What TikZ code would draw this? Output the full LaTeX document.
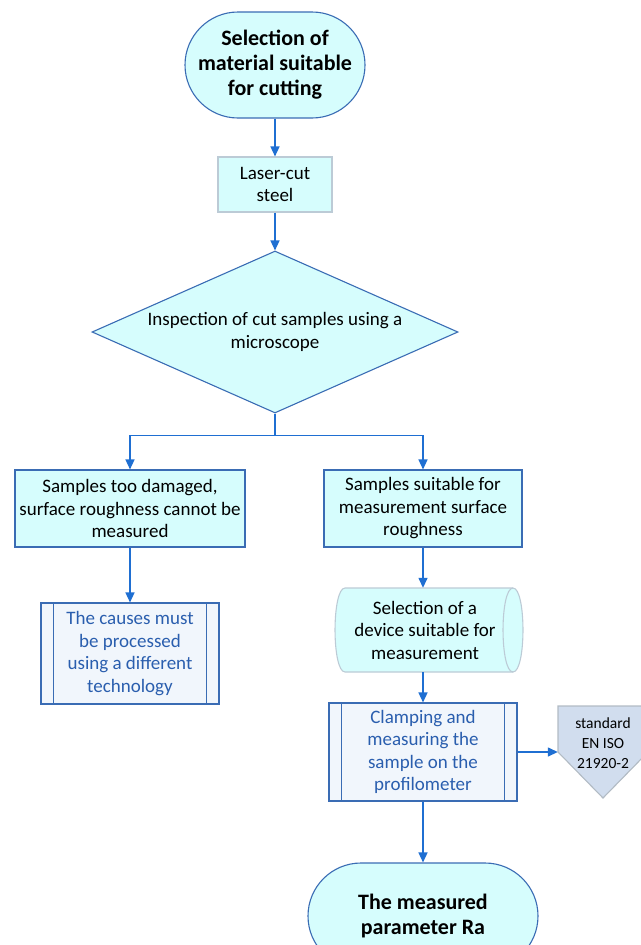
\documentclass[tikz,border=0pt]{standalone}
\usepackage{fontspec}
\setmainfont{Carlito}
\usetikzlibrary{arrows.meta,shapes.geometric,calc}

\definecolor{cyanfill}{HTML}{D6FDFD}
\definecolor{edgeblue}{HTML}{3A6CB4}
\definecolor{arrowblue}{HTML}{1F6FD2}
\definecolor{laseredge}{HTML}{BCCBD6}
\definecolor{predeffill}{HTML}{F1F6FC}
\definecolor{textblue}{HTML}{2A5EAE}
\definecolor{stdfill}{HTML}{D1DDEE}
\definecolor{stdedge}{HTML}{B2BBC4}

\begin{document}
\begin{tikzpicture}[
        x=1pt, y=-1pt,
        >={Triangle[length=10pt,width=9pt]},
        box/.style={draw=edgeblue, fill=cyanfill, line width=1.1pt, align=center,
            inner sep=0pt, font=\fontsize{19}{22.5}\selectfont},
        terminal/.style={box, rounded corners=53pt, font=\bfseries\fontsize{22}{25}\selectfont},
        predef/.style={box, fill=predeffill, text=textblue},
        flow/.style={->, draw=arrowblue, line width=1.4pt},
        ]
        \useasboundingbox (0,0) rectangle (640,945);

        % Main column
        \node[terminal, minimum width=180pt, minimum height=106pt] (select) at (275,65)
            {Selection of\\material suitable\\for cutting};
        \node[box, draw=laseredge, minimum width=114pt, minimum height=55pt] (laser) at (275,184.5)
            {Laser-cut\\steel};
        \node[box, diamond, aspect=2.26, minimum width=366pt, minimum height=162pt] (inspect) at (275,332)
            {Inspection of cut samples using a\\microscope};

        % Two branches
        \node[box, minimum width=230pt, minimum height=77pt] (damaged) at (130,508.5)
            {Samples too damaged,\\surface roughness cannot be\\measured};
        \node[box, minimum width=198pt, minimum height=77pt] (suitable) at (423,508.5)
            {Samples suitable for\\measurement surface\\roughness};
        \node[predef, minimum width=178pt, minimum height=101pt] (causes) at (130,653.5)
            {The causes must\\be processed\\using a different\\technology};
        \node[predef, minimum width=188pt, minimum height=98pt] (clamp) at (423,752)
            {Clamping and\\measuring the\\sample on the\\profilometer};
        \node[terminal, minimum width=230pt, minimum height=106pt] (result) at (423,916)
            {The measured\\parameter Ra};

        % Side bars of the predefined processes
        \foreach \n in {causes,clamp}{
            \draw[edgeblue, line width=1.1pt] ([xshift=13pt]\n.north west) -- ([xshift=13pt]\n.south west);
            \draw[edgeblue, line width=1.1pt] ([xshift=-13pt]\n.north east) -- ([xshift=-13pt]\n.south east);
        }

        % Stored data (lying cylinder)
        \coordinate (devc) at (425,630);
        \draw[fill=cyanfill, draw=laseredge, line width=1.1pt]
            ($(devc)+(-80,-42)$) -- ($(devc)+(88,-42)$) .. controls +(13.3,0) and +(13.3,0) .. ($(devc)+(88,42)$)
            -- ($(devc)+(-80,42)$) .. controls +(-13.3,0) and +(-13.3,0) .. ($(devc)+(-80,-42)$) -- cycle;
        \draw[draw=laseredge, line width=1.1pt]
            ($(devc)+(88,-42)$) .. controls +(-13.3,0) and +(-13.3,0) .. ($(devc)+(88,42)$);
        \node[align=center, inner sep=0pt, minimum width=160pt, minimum height=84pt,
            font=\fontsize{19}{22.5}\selectfont] (device) at (devc)
            {Selection of a\\device suitable for\\measurement};

        % Off-page reference
        \coordinate (stdc) at (603,743);
        \draw[fill=stdfill, draw=stdedge, line width=1.1pt] ($(stdc)+(-45,-37)$) -- ++(90,0) -- ++(0,46)
            -- ++(-45,46) -- ++(-45,-46) -- cycle;
        \node[align=center, inner sep=0pt, minimum width=90pt, font=\fontsize{15.5}{20}\selectfont] (std) at (stdc)
            {standard\\EN ISO\\21920-2};

        % Connectors
        \draw[flow] (select) -- (laser);
        \draw[flow] (laser) -- (inspect);
        \draw[flow] (inspect.south) -- ++(0,22) -| (damaged.north);
        \draw[flow] (inspect.south) -- ++(0,22) -| (suitable.north);
        \draw[flow] (damaged) -- (causes);
        \draw[flow] (suitable.south) -- (suitable.south |- device.north);
        \draw[flow] (clamp.north |- device.south) -- (clamp.north);
        \draw[flow] (clamp.east) -- (clamp.east -| std.west);
        \draw[flow] (clamp) -- (result);

    \end{tikzpicture}
\end{document}
